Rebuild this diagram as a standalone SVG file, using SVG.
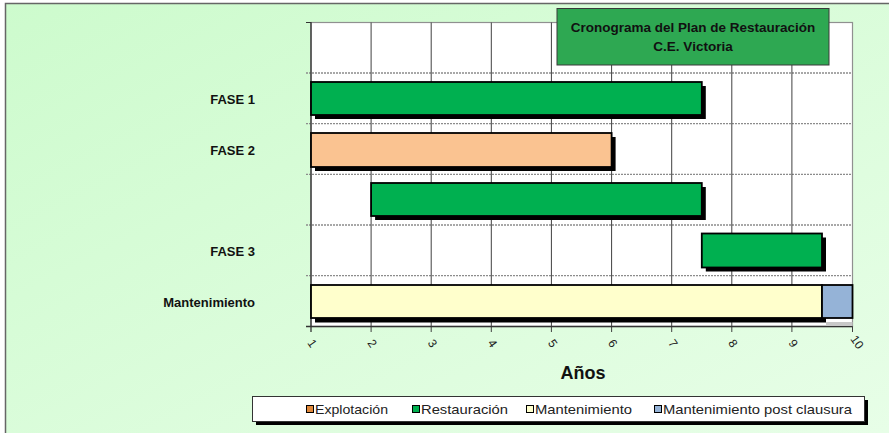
<svg xmlns="http://www.w3.org/2000/svg" width="889" height="433" viewBox="0 0 889 433">
<defs>
<linearGradient id="bg" x1="0" y1="0" x2="1" y2="1">
<stop offset="0" stop-color="#cdfbcd"/>
<stop offset="1" stop-color="#e8fee8"/>
</linearGradient>
<style>
.lbl{font-family:"Liberation Sans",Arial,sans-serif;font-weight:bold;font-size:13px;fill:#111;text-anchor:end}
.tick{font-family:"Liberation Sans",Arial,sans-serif;font-size:12px;fill:#222}
.leg{font-family:"Liberation Sans",Arial,sans-serif;font-size:13.5px;fill:#222}
.bar{stroke:#000;stroke-width:1.8}
.sh{fill:#000}
.vg{stroke:#404040;stroke-width:1}
.hg{stroke:#8c8c8c;stroke-width:1.3;stroke-dasharray:2 1}
.mk{stroke:#000;stroke-width:1}
</style>
</defs>
<rect x="5.5" y="3.5" width="900" height="450" fill="url(#bg)" stroke="#666" stroke-width="1.5"/>

<g id="plot">
<rect x="311" y="22.5" width="541.5" height="304" fill="#fff" stroke="#909090" stroke-width="1.2"/>
<g id="hgrid">
<line class="hg" x1="306" y1="73" x2="852.5" y2="73"/>
<line class="hg" x1="306" y1="123.7" x2="852.5" y2="123.7"/>
<line class="hg" x1="306" y1="174.3" x2="852.5" y2="174.3"/>
<line class="hg" x1="306" y1="225" x2="852.5" y2="225"/>
<line class="hg" x1="306" y1="275.7" x2="852.5" y2="275.7"/>
</g>
<g id="vgrid">
<line class="vg" x1="371.1" y1="22.5" x2="371.1" y2="332"/>
<line class="vg" x1="431.2" y1="22.5" x2="431.2" y2="332"/>
<line class="vg" x1="491.3" y1="22.5" x2="491.3" y2="332"/>
<line class="vg" x1="551.4" y1="22.5" x2="551.4" y2="332"/>
<line class="vg" x1="611.6" y1="22.5" x2="611.6" y2="332"/>
<line class="vg" x1="671.7" y1="22.5" x2="671.7" y2="332"/>
<line class="vg" x1="731.8" y1="22.5" x2="731.8" y2="332"/>
<line class="vg" x1="791.9" y1="22.5" x2="791.9" y2="332"/>
<line class="vg" x1="852.5" y1="326.5" x2="852.5" y2="332"/>
</g>
<line x1="311" y1="22" x2="311" y2="332" stroke="#333" stroke-width="1.3"/>
<line x1="306" y1="22.5" x2="311" y2="22.5" stroke="#333" stroke-width="1"/>
<line x1="306" y1="326.5" x2="852.5" y2="326.5" stroke="#333" stroke-width="1.3"/>
</g>

<g id="fase1">
<rect class="sh" x="315" y="86" width="390.8" height="33"/>
<rect class="bar" x="311" y="82" width="390.8" height="33" fill="#00b050"/>
<text class="lbl" x="255" y="104">FASE 1</text>
</g>
<g id="fase2">
<rect class="sh" x="315" y="137" width="300.6" height="34"/>
<rect class="bar" x="311" y="133" width="300.6" height="34" fill="#fac391"/>
<text class="lbl" x="255" y="155">FASE 2</text>
</g>
<g id="fila3">
<rect class="sh" x="375.1" y="187" width="330.7" height="33"/>
<rect class="bar" x="371.1" y="183" width="330.7" height="33" fill="#00b050"/>
</g>
<g id="fase3">
<rect class="sh" x="705.8" y="237.5" width="120.2" height="34"/>
<rect class="bar" x="701.8" y="233.5" width="120.2" height="34" fill="#00b050"/>
<text class="lbl" x="255" y="256">FASE 3</text>
</g>
<g id="mantenimiento">
<rect x="826" y="322" width="26.5" height="4" fill="#c8c8c8"/>
<rect class="sh" x="315" y="318" width="511" height="4.5"/>
<rect class="bar" x="311" y="285" width="511" height="33" fill="#ffffcc"/>
<rect class="bar" x="822" y="285" width="30.5" height="33" fill="#95b3d7"/>
<text class="lbl" x="255" y="306.5">Mantenimiento</text>
</g>

<g id="xaxis">
<text class="tick" transform="translate(307,343) rotate(55)">1</text>
<text class="tick" transform="translate(367.1,343) rotate(55)">2</text>
<text class="tick" transform="translate(427.2,343) rotate(55)">3</text>
<text class="tick" transform="translate(487.3,343) rotate(55)">4</text>
<text class="tick" transform="translate(547.4,343) rotate(55)">5</text>
<text class="tick" transform="translate(607.6,343) rotate(55)">6</text>
<text class="tick" transform="translate(667.7,343) rotate(55)">7</text>
<text class="tick" transform="translate(727.8,343) rotate(55)">8</text>
<text class="tick" transform="translate(787.9,343) rotate(55)">9</text>
<text class="tick" transform="translate(850,339) rotate(55)">10</text>
<text x="583" y="379" text-anchor="middle" style="font-family:'Liberation Sans',Arial,sans-serif;font-weight:bold;font-size:18px;fill:#111">Años</text>
</g>

<g id="titulo">
<rect x="557" y="8.5" width="272" height="56.5" fill="#2ea852" stroke="#3a3a3a" stroke-width="1"/>
<text x="693" y="31.5" text-anchor="middle" style="font-family:'Liberation Sans',Arial,sans-serif;font-weight:bold;font-size:13.5px;fill:#111">Cronograma del Plan de Restauración</text>
<text x="693" y="50.5" text-anchor="middle" style="font-family:'Liberation Sans',Arial,sans-serif;font-weight:bold;font-size:13.5px;fill:#111">C.E. Victoria</text>
</g>

<g id="leyenda">
<rect x="256" y="400" width="612" height="25" fill="#000"/>
<rect x="252.5" y="396.5" width="612" height="25" fill="#fff" stroke="#333" stroke-width="1"/>
<rect class="mk" x="306.5" y="405.5" width="7" height="7" fill="#e0883a"/>
<text class="leg" x="315" y="414" textLength="73" lengthAdjust="spacingAndGlyphs">Explotación</text>
<rect class="mk" x="412.5" y="405.5" width="7" height="7" fill="#00b050"/>
<text class="leg" x="421" y="414" textLength="87" lengthAdjust="spacingAndGlyphs">Restauración</text>
<rect class="mk" x="526.5" y="405.5" width="7" height="7" fill="#ffffcc"/>
<text class="leg" x="535" y="414" textLength="97" lengthAdjust="spacingAndGlyphs">Mantenimiento</text>
<rect class="mk" x="654.5" y="405.5" width="7" height="7" fill="#95b3d7"/>
<text class="leg" x="663" y="414" textLength="189" lengthAdjust="spacingAndGlyphs">Mantenimiento post clausura</text>
</g>
</svg>
